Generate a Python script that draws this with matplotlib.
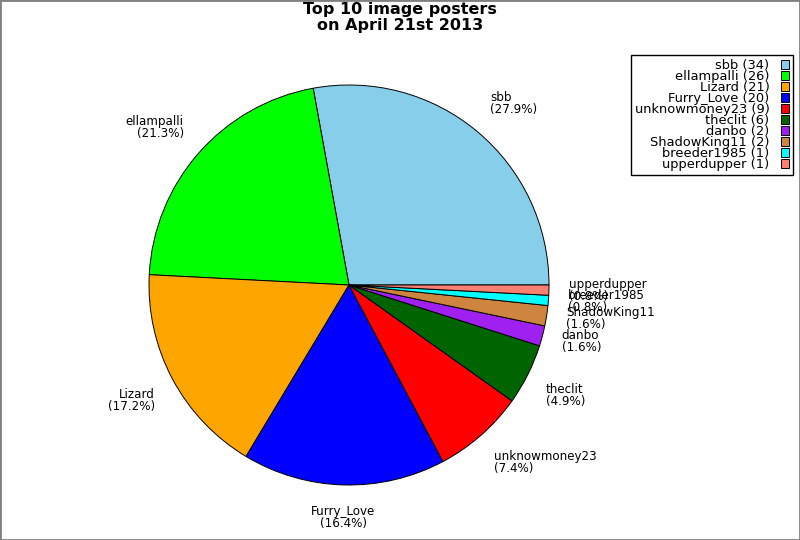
import numpy as np
import matplotlib
matplotlib.use("Agg")
import matplotlib.pyplot as plt
from matplotlib.patches import Rectangle

names = ["sbb", "ellampalli", "Lizard", "Furry_Love", "unknowmoney23",
         "theclit", "danbo", "ShadowKing11", "breeder1985", "upperdupper"]
counts = [34, 26, 21, 20, 9, 6, 2, 2, 1, 1]
colors = ["#87CEEB", "#00FF00", "#FFA500", "#0000FF", "#FF0000",
          "#006400", "#A020F0", "#CD853F", "#00FFFF", "#FA8072"]
title = "Top 10 image posters\non April 21st 2013"

fs = 8.6
fig = plt.figure(figsize=(8, 5.4), dpi=100)

# grey frame round the whole picture
fig.patches.append(Rectangle((0, 0), 1, 1, transform=fig.transFigure,
                             fill=False, edgecolor="#808080", linewidth=2))

ax = fig.add_axes([149 / 800, 55 / 540, 400 / 800, 400 / 540])
wedges, _ = ax.pie(counts, colors=colors, startangle=0, counterclock=True,
                   radius=1.0,
                   wedgeprops=dict(edgecolor="black", linewidth=0.7))
ax.set_xlim(-1, 1)
ax.set_ylim(-1, 1)
ax.axis("off")

total = float(sum(counts))
for w, name, c in zip(wedges, names, counts):
    mid = np.deg2rad((w.theta1 + w.theta2) / 2)
    cx, sy = np.cos(mid), np.sin(mid)
    if abs(cx) < 0.1:
        ha = "center"
    else:
        ha = "left" if cx > 0 else "right"
    if sy > 0.3:
        va = "bottom"
    elif sy < -0.3:
        va = "top"
    else:
        va = "center"
    ax.text(1.1 * cx, 1.1 * sy, f"{name}\n({100 * c / total:.1f}%)",
            ha=ha, va=va, fontsize=fs, linespacing=0.9)

fig.text(0.5, 1 - 2 / 540, title, ha="center", va="top",
         fontsize=11.5, fontweight="bold", linespacing=1.05)

leg = fig.legend(wedges, [f"{n} ({c})" for n, c in zip(names, counts)],
                 loc="upper right", bbox_to_anchor=(793 / 800, 1 - 55 / 540),
                 bbox_transform=fig.transFigure, borderaxespad=0,
                 markerfirst=False, fancybox=False, framealpha=1,
                 edgecolor="black", handlelength=0.65, handleheight=0.65,
                 labelspacing=-0.15, handletextpad=0.85, borderpad=0.3,
                 fontsize=9.4)
leg.get_frame().set_linewidth(1.0)

plt.savefig("out.png", dpi=100)
